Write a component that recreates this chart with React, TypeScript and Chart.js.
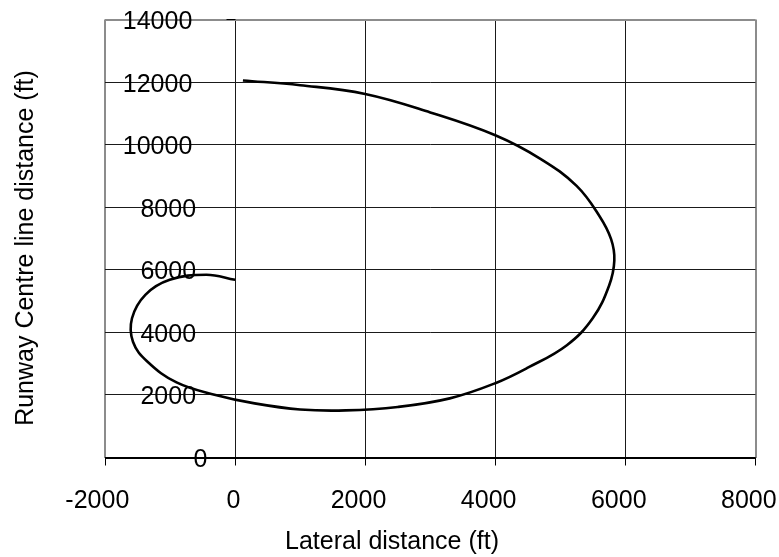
import React, { useEffect, useRef } from "react";
import { Chart, registerables } from "chart.js";

Chart.register(...registerables);

// Trajectory (ft)
const lateralFt = [
  120, 1000, 2000, 3000, 4000, 4700, 5250, 5600, 5780, 5830, 5750, 5500, 5100, 4500,
  4000, 3300, 2500, 1700, 1000, 300, -300, -900, -1350, -1570, -1585, -1380, -1005, -440, 0,
];
const centrelineFt = [
  12050, 11900, 11620, 11030, 10300, 9540, 8680, 7720, 6980, 6300, 5500, 4460, 3590, 2870,
  2375, 1890, 1615, 1505, 1535, 1730, 2000, 2400, 3070, 3700, 4450, 5200, 5680, 5840, 5680,
];

const xTicks = [-2000, 0, 2000, 4000, 6000, 8000];
const yTicks = [0, 2000, 4000, 6000, 8000, 10000, 12000, 14000];
const xTitle = "Lateral distance (ft)";
const yTitle = "Runway Centre line distance (ft)";

const FONT = "25px 'Liberation Sans', Arial, sans-serif";

const align1 = (p: number) => Math.round(p - 0.5) + 0.5;

const decorPlugin = {
  id: "decor",
  afterDraw(chart: any) {
    const ctx = chart.ctx as CanvasRenderingContext2D;
    const xs = chart.scales.x;
    const ys = chart.scales.y;
    const x0 = xs.getPixelForValue(0);
    const y0 = ys.getPixelForValue(0);
    ctx.save();
    // tick marks
    ctx.strokeStyle = "#000";
    ctx.lineWidth = 1;
    ctx.beginPath();
    xTicks.forEach((v) => {
      const px = align1(xs.getPixelForValue(v));
      ctx.moveTo(px, y0);
      ctx.lineTo(px, y0 + 8);
    });
    const ax = align1(x0);
    [yTicks[yTicks.length - 1]].forEach((v) => {
      const py = ys.getPixelForValue(v);
      ctx.moveTo(ax - 9, py);
      ctx.lineTo(ax, py);
    });
    ctx.stroke();

    ctx.fillStyle = "#000";
    ctx.font = FONT;
    ctx.textBaseline = "alphabetic";
    // x tick labels
    ctx.textAlign = "center";
    xTicks.forEach((v) => {
      const s = String(v);
      const w = ctx.measureText(s).width;
      ctx.fillText(s, xs.getPixelForValue(v) - 0.12 * w, y0 + 50.5);
    });
    // y tick labels
    ctx.textAlign = "right";
    yTicks.forEach((v) => {
      const s = String(v);
      const w = ctx.measureText(s).width;
      ctx.fillText(s, x0 - 24 - 0.27 * w, ys.getPixelForValue(v) + 9.5);
    });
    // axis titles
    ctx.textAlign = "center";
    ctx.fillText(xTitle, 392, 549);
    ctx.translate(33.3, 248);
    ctx.rotate(-Math.PI / 2);
    ctx.fillText(yTitle, 0, 0);
    ctx.restore();
  },
};

export default function App() {
  const ref = useRef<HTMLCanvasElement | null>(null);
  useEffect(() => {
    document.body.style.margin = "0";
    if (!ref.current) return;
    const points = lateralFt.map((x, i) => ({ x, y: centrelineFt[i] }));
    const edgeX = (v: number) => v === -2000 || v === 8000;
    const edgeY = (v: number) => v === 14000;
    const chart = new Chart(ref.current, {
      type: "scatter",
      data: {
        datasets: [
          {
            data: points,
            showLine: true,
            borderColor: "#000",
            borderWidth: 2.6,
            pointRadius: 0,
            tension: 0.4,
            fill: false,
          },
        ],
      },
      options: {
        animation: false,
        responsive: true,
        maintainAspectRatio: false,
        layout: { padding: { left: 105, right: 23.5, top: 19.5, bottom: 99.5 } },
        plugins: { legend: { display: false }, tooltip: { enabled: false } },
        scales: {
          x: {
            type: "linear",
            min: -2000,
            max: 8000,
            ticks: { display: false, stepSize: 2000 },
            border: { display: false },
            grid: {
              drawTicks: false,
              color: (c: any) => (edgeX(c.tick.value) ? "#8c8c8c" : "#1a1a1a"),
              lineWidth: (c: any) => (edgeX(c.tick.value) ? 2 : 1),
            },
          },
          y: {
            type: "linear",
            min: 0,
            max: 14000,
            ticks: { display: false, stepSize: 2000 },
            border: { display: false },
            grid: {
              drawTicks: false,
              color: (c: any) =>
                edgeY(c.tick.value) ? "#8c8c8c" : c.tick.value === 0 ? "#000" : "#1a1a1a",
              lineWidth: (c: any) => (edgeY(c.tick.value) || c.tick.value === 0 ? 2 : 1),
            },
          },
        },
      },
      plugins: [decorPlugin],
    });
    return () => chart.destroy();
  }, []);
  return (
    <div style={{ width: 779, height: 557, position: "relative", background: "#fff" }}>
      <canvas ref={ref} />
    </div>
  );
}
